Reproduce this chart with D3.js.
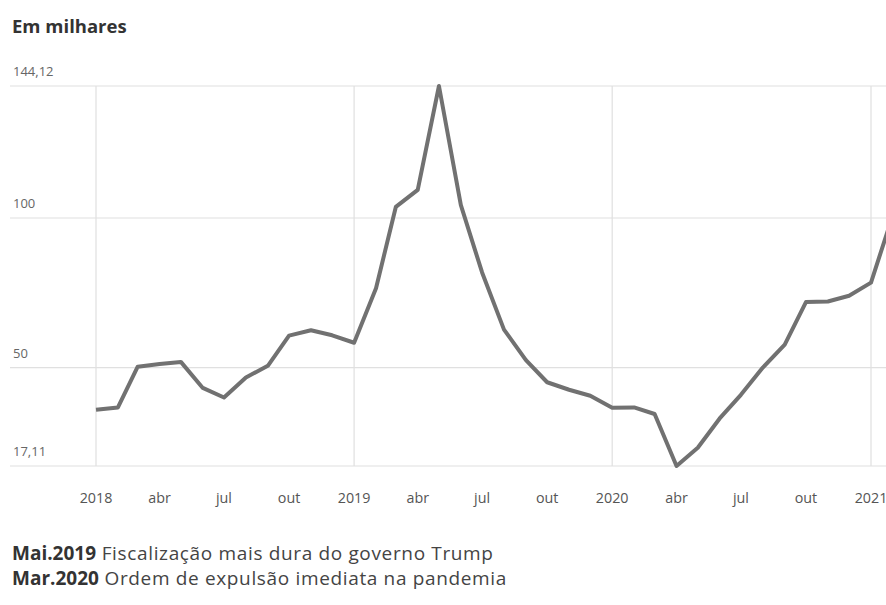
<!DOCTYPE html>
<html>
<head>
<meta charset="utf-8">
<script src="https://cdn.jsdelivr.net/npm/d3@7"></script>
<style>
    body { margin: 0; background: #fff; }
    text { font-family: "Open Sans", "Noto Sans", sans-serif; }
</style>
</head>
<body>
<div id="chart"></div>
<script>
// valores mensais, em milhares (jan.2018 - fev.2021)
const months = [
    "2018-01", "2018-02", "2018-03", "2018-04", "2018-05", "2018-06",
    "2018-07", "2018-08", "2018-09", "2018-10", "2018-11", "2018-12",
    "2019-01", "2019-02", "2019-03", "2019-04", "2019-05", "2019-06",
    "2019-07", "2019-08", "2019-09", "2019-10", "2019-11", "2019-12",
    "2020-01", "2020-02", "2020-03", "2020-04", "2020-05", "2020-06",
    "2020-07", "2020-08", "2020-09", "2020-10", "2020-11", "2020-12",
    "2021-01", "2021-02"
];
const values = [
    35.9, 36.7, 50.3, 51.2, 51.9, 43.2, 40.0, 46.7, 50.6, 60.7, 62.5, 60.8,
    58.3, 76.5, 103.7, 109.4, 144.12, 104.3, 81.8, 62.7, 52.5, 45.1, 42.6, 40.6,
    36.6, 36.7, 34.5, 17.11, 23.2, 33.0, 40.9, 50.0, 57.7, 71.9, 72.1, 74.0,
    78.4, 101.1
];
const yTicks = [17.11, 50, 100, 144.12];
const xTicks = ["2018-01", "2018-04", "2018-07", "2018-10", "2019-01", "2019-04", "2019-07", "2019-10",
    "2020-01", "2020-04", "2020-07", "2020-10", "2021-01"];
const monthNames = ["jan", "fev", "mar", "abr", "mai", "jun", "jul", "ago", "set", "out", "nov", "dez"];
const notes = [
    { date: "Mai.2019", text: "Fiscalização mais dura do governo Trump" },
    { date: "Mar.2020", text: "Ordem de expulsão imediata na pandemia" }
];

const width = 886, height = 605;
const parse = d3.timeParse("%Y-%m");
const data = months.map((m, i) => ({ date: parse(m), value: values[i] }));

const x = d3.scaleTime()
    .domain([parse("2018-01"), parse("2021-01")])
    .range([96, 871]);

const y = d3.scaleLinear()
    .domain([17.11, 144.12])
    .range([466, 86]);

const fmt = d => d3.format(",")(d).replace(".", ",");

const svg = d3.select("#chart")
    .append("svg")
    .attr("width", width)
    .attr("height", height);

svg.append("text")
    .attr("x", 12)
    .attr("y", 33)
    .text("Em milhares")
    .style("font-size", "18.5px")
    .style("font-weight", "700")
    .attr("fill", "#333");

// grade horizontal
svg.selectAll(".hgrid")
    .data(yTicks)
    .enter()
    .append("line")
    .attr("x1", 10)
    .attr("x2", width)
    .attr("y1", d => y(d))
    .attr("y2", d => y(d))
    .attr("stroke", "#e0e0e0")
    .attr("stroke-width", 1.2);

svg.selectAll(".ylabel")
    .data(yTicks)
    .enter()
    .append("text")
    .attr("x", 13)
    .attr("y", d => y(d) - 10)
    .text(d => fmt(d))
    .style("font-size", "13px")
    .attr("fill", "#666");

// grade vertical nos anos
const years = x.ticks(d3.timeYear.every(1));
svg.selectAll(".vgrid")
    .data(years)
    .enter()
    .append("line")
    .attr("x1", d => x(d))
    .attr("x2", d => x(d))
    .attr("y1", y(144.12))
    .attr("y2", y(17.11))
    .attr("stroke", "#e0e0e0")
    .attr("stroke-width", 1.2);

svg.selectAll(".xlabel")
    .data(xTicks.map(parse))
    .enter()
    .append("text")
    .attr("x", d => x(d))
    .attr("y", 503)
    .text(d => d.getMonth() == 0 ? d.getFullYear() : monthNames[d.getMonth()])
    .style("font-size", "14.3px")
    .style("text-anchor", "middle")
    .attr("fill", "#555");

const line = d3.line()
    .x(d => x(d.date))
    .y(d => y(d.value));

svg.append("path")
    .datum(data)
    .attr("d", line)
    .attr("fill", "none")
    .attr("stroke", "#717171")
    .attr("stroke-width", 4)
    .attr("stroke-linejoin", "round");

const note = svg.selectAll(".note")
    .data(notes)
    .enter()
    .append("text")
    .attr("x", 12)
    .attr("y", (d, i) => 560 + i * 25)
    .style("font-size", "19px");

note.append("tspan")
    .text(d => d.date)
    .style("font-weight", "700")
    .attr("fill", "#333");

note.append("tspan")
    .text(d => " " + d.text)
    .style("letter-spacing", "0.65px")
    .attr("fill", "#444");
</script>
</body>
</html>
